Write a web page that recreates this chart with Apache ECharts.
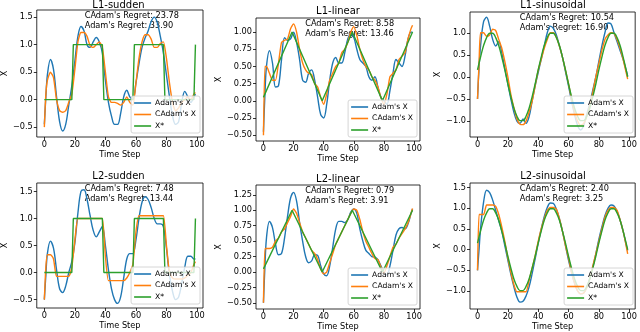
<!DOCTYPE html>
<html><head><meta charset="utf-8">
<script src="https://cdn.jsdelivr.net/npm/echarts@6/dist/echarts.min.js"></script>
<style>html,body{margin:0;padding:0;background:#fff}#c{width:640px;height:332px}</style>
</head><body><div id="c"></div>
<script>
// ---------- data ----------
const T = [0,1,2,4,6,8,10,12,14,16, 18,20,22,24,26,28,30,32,34,36, 38,40,42,44,46,48,50,52,54,56, 58,60,62,64,66,68,70,72,74,76, 78,80,82,84,86,88,90,92,94,96, 98,99];
const T_SUDDEN = [0,18,19,38,39,58,59,78,79,98,99];
const XSTAR_SUDDEN = [0,0,1,1,0,0,1,1,0,0,1];
const T_LINEAR = [0,19,39,59,79,99];
const XSTAR_LINEAR = [0.05,1,0,1,0,1];
const XSTAR_SIN = [0.16,0.31,0.45,0.71,0.89,0.99,0.99,0.89,0.71,0.45, 0.16,-0.16,-0.45,-0.71,-0.89,-0.99,-0.99,-0.89,-0.71,-0.45, -0.16,0.16,0.45,0.71,0.89,0.99,0.99,0.89,0.71,0.45, 0.16,-0.16,-0.45,-0.71,-0.89,-0.99,-0.99,-0.89,-0.71,-0.45, -0.16,0.16,0.45,0.71,0.89,0.99,0.99,0.89,0.71,0.45, 0.16,0.00];

const L1S_ADAM = [-0.45,0.05,0.45,0.73,0.55,0.05,-0.40,-0.57,-0.45,-0.10, 0.25,0.70,1.15,1.33,1.25,1.00,0.95,1.05,1.13,1.05, 0.85,0.35,-0.05,-0.30,-0.45,-0.45,-0.25,0.05,0.17,0.05, 0.00,0.30,0.65,0.95,1.12,1.25,1.42,1.50,1.40,1.15, 0.85,0.45,0.05,-0.30,-0.45,-0.40,-0.05,0.15,0.05,-0.05, 0.05,0.10];
const L1S_CADAM = [-0.50,0.10,0.35,0.50,0.40,0.00,-0.20,-0.23,-0.20,-0.05, 0.10,0.55,1.05,1.22,1.22,1.15,0.98,0.95,1.00,1.05, 0.95,0.50,0.05,-0.05,-0.05,-0.07,-0.10,-0.05,0.05,-0.05, -0.10,0.30,0.75,1.05,1.18,1.18,1.10,0.95,0.95,1.02, 1.05,0.75,0.30,-0.05,-0.20,-0.15,-0.05,0.00,0.05,0.00, 0.10,0.13];
const L1L_ADAM = [-0.45,0.10,0.50,0.73,0.55,0.20,0.22,0.60,0.92,0.88, 0.90,1.00,0.85,0.60,0.30,0.27,0.40,0.45,0.30,0.05, -0.20,-0.25,-0.05,0.30,0.55,0.63,0.55,0.55,0.70,0.90, 0.97,0.92,0.75,0.60,0.55,0.50,0.35,0.30,0.35,0.20, 0.05,0.00,-0.05,0.15,0.40,0.60,0.55,0.50,0.65,0.90, 1.00,1.00];
const L1L_CADAM = [-0.50,0.50,0.50,0.40,0.30,0.30,0.55,0.85,0.88,0.90, 1.05,1.12,1.00,0.75,0.55,0.45,0.40,0.38,0.25,0.20, 0.05,-0.05,0.10,0.30,0.40,0.50,0.55,0.70,0.75,0.85, 1.00,1.08,0.95,0.75,0.60,0.50,0.45,0.35,0.30,0.20, 0.05,-0.05,0.10,0.35,0.40,0.45,0.60,0.65,0.70,0.90, 1.05,1.10];
const L1N_ADAM = [-0.50,0.20,0.70,1.25,1.35,1.15,0.85,0.70,0.80,0.55, 0.20,-0.15,-0.50,-0.80,-1.00,-1.05,-0.95,-1.05,-0.90,-0.55, -0.20,0.10,0.40,0.70,1.00,1.15,1.10,0.95,0.70,0.45, 0.12,-0.20,-0.55,-0.85,-1.10,-1.20,-1.10,-0.85,-0.60,-0.30, 0.00,0.35,0.70,1.00,1.22,1.20,1.00,0.80,0.60,0.40, 0.15,0.02];
const L1N_CADAM = [-0.50,0.30,1.00,1.00,0.92,0.95,1.08,1.05,0.85,0.65, 0.35,0.00,-0.40,-0.70,-0.95,-1.07,-1.08,-1.00,-0.80,-0.55, -0.20,0.15,0.40,0.65,0.85,1.00,1.00,0.90,0.70,0.45, 0.15,-0.15,-0.50,-0.80,-1.00,-1.10,-1.05,-0.90,-0.65,-0.35, 0.00,0.30,0.60,0.85,0.95,1.00,0.98,0.85,0.65,0.40, 0.10,-0.05];
const L2S_ADAM = [-0.50,-0.05,0.35,0.58,0.45,0.05,-0.30,-0.37,-0.25,0.00, 0.20,0.55,1.10,1.50,1.53,1.35,1.05,0.78,0.66,0.75, 0.85,0.50,0.05,-0.30,-0.50,-0.57,-0.45,-0.10,0.25,0.35, 0.35,0.60,1.00,1.30,1.40,1.35,1.20,1.00,0.90,0.90, 0.85,0.45,-0.05,-0.35,-0.50,-0.45,-0.20,0.10,0.30,0.30, 0.25,0.25];
const L2S_CADAM = [-0.50,0.10,0.33,0.33,0.25,-0.07,-0.07,-0.07,-0.07,-0.07, 0.10,0.60,1.00,1.00,1.00,1.00,1.00,1.00,1.00,1.00, 1.00,0.30,-0.15,-0.15,-0.15,-0.15,-0.15,-0.15,-0.10,0.00, 0.15,0.75,1.05,1.05,1.05,1.05,1.05,1.05,1.05,1.05, 1.05,0.50,0.00,-0.10,-0.12,-0.12,-0.12,-0.10,-0.05,0.00, 0.15,0.20];
const L2L_ADAM = [-0.50,0.10,0.55,0.82,0.72,0.45,0.28,0.30,0.55,0.90, 1.20,1.29,1.15,0.80,0.50,0.25,0.15,0.18,0.28,0.27, 0.10,-0.03,-0.06,0.10,0.40,0.70,0.82,0.82,0.80,0.85, 0.97,1.02,0.95,0.70,0.50,0.35,0.30,0.25,0.24,0.20, 0.10,0.00,-0.05,0.10,0.35,0.60,0.70,0.72,0.70,0.78, 0.95,1.02];
const L2L_CADAM = [-0.50,0.38,0.38,0.38,0.40,0.50,0.55,0.65,0.70,0.80, 0.90,1.02,0.95,0.80,0.65,0.55,0.45,0.35,0.30,0.20, 0.05,-0.03,0.00,0.15,0.30,0.45,0.55,0.65,0.75,0.85, 0.95,1.02,1.00,0.85,0.65,0.50,0.40,0.30,0.22,0.20, 0.08,-0.02,0.10,0.25,0.40,0.45,0.55,0.62,0.70,0.80, 0.95,1.03];
const L2N_ADAM = [-0.50,0.00,0.50,1.15,1.44,1.38,1.20,0.95,0.70,0.45, 0.10,-0.25,-0.60,-0.90,-1.15,-1.27,-1.25,-1.12,-0.90,-0.58, -0.22,0.15,0.50,0.80,1.02,1.13,1.12,0.98,0.75,0.45, 0.10,-0.25,-0.55,-0.82,-1.00,-1.07,-1.05,-0.92,-0.70,-0.42, -0.10,0.25,0.55,0.82,1.00,1.08,1.06,0.93,0.72,0.45, 0.12,-0.02];
const L2N_CADAM = [-0.50,0.85,0.85,0.85,1.08,1.08,1.08,1.05,0.85,0.55, 0.20,-0.20,-0.55,-0.85,-1.02,-1.02,-1.02,-1.02,-0.75,-0.45, -0.15,0.20,0.50,0.75,0.95,1.02,1.02,0.98,0.75,0.45, 0.10,-0.20,-0.55,-0.80,-1.00,-1.07,-1.05,-0.92,-0.70,-0.40, -0.10,0.20,0.50,0.78,0.95,1.02,1.02,0.95,0.72,0.45, 0.10,-0.10];

const TITLES = ['L1-sudden','L1-linear','L1-sinusoidal','L2-sudden','L2-linear','L2-sinusoidal'];
const CADAM_REGRET = [23.78, 8.58, 10.54, 7.48, 0.79, 2.40];
const ADAM_REGRET = [33.90, 13.46, 16.90, 13.44, 3.91, 3.25];
const X_TICKS = [0,20,40,60,80,100];
const Y_TICKS_SUDDEN = [-0.5,0,0.5,1,1.5];
const Y_TICKS_L1_LINEAR = [-0.5,-0.25,0,0.25,0.5,0.75,1];
const Y_TICKS_L2_LINEAR = [-0.5,-0.25,0,0.25,0.5,0.75,1,1.25];
const Y_TICKS_L1_SIN = [-1,-0.5,0,0.5,1];
const Y_TICKS_L2_SIN = [-1,-0.5,0,0.5,1,1.5];
const NAMES = ["Adam's X", "CAdam's X", "X*"];

// ---------- layout ----------
const FONT = 'DejaVu Sans';
const FS = 8.2;
const LFS = 7.6;
const W = 640, H = 332;
const COLORS = ['#1f77b4', '#ff7f0e', '#2ca02c'];
const panels = [
  {g:[34,10,169,127],  ty:5.5,   ylim:[-0.68,1.63],  yt:Y_TICKS_SUDDEN,    dec:1, adam:L1S_ADAM, cadam:L1S_CADAM, st:T_SUDDEN, star:XSTAR_SUDDEN, sm:false, yGap:25},
  {g:[256,18,164,123], ty:11,    ylim:[-0.585,1.205],yt:Y_TICKS_L1_LINEAR, dec:2, adam:L1L_ADAM, cadam:L1L_CADAM, st:T_LINEAR, star:XSTAR_LINEAR, sm:false, yGap:28},
  {g:[470,12,166,125], ty:5.5,   ylim:[-1.36,1.47],  yt:Y_TICKS_L1_SIN,    dec:1, adam:L1N_ADAM, cadam:L1N_CADAM, st:T,        star:XSTAR_SIN,    sm:true,  yGap:26},
  {g:[34,183,169,125], ty:176.5, ylim:[-0.655,1.655],yt:Y_TICKS_SUDDEN,    dec:1, adam:L2S_ADAM, cadam:L2S_CADAM, st:T_SUDDEN, star:XSTAR_SUDDEN, sm:false, yGap:25.5},
  {g:[256,185,164,124],ty:179,   ylim:[-0.60,1.41],  yt:Y_TICKS_L2_LINEAR, dec:2, adam:L2L_ADAM, cadam:L2L_CADAM, st:T_LINEAR, star:XSTAR_LINEAR, sm:false, yGap:27},
  {g:[470,183,166,126],ty:176.5, ylim:[-1.436,1.614],yt:Y_TICKS_L2_SIN,    dec:1, adam:L2N_ADAM, cadam:L2N_CADAM, st:T,        star:XSTAR_SIN,    sm:true,  yGap:24}
];

function pairs(xs, ys) { return xs.map((x, i) => [x, ys[i]]); }
function fmt(v, dec) { return v.toFixed(dec).replace('-', '\u2212'); }
const txt = {color:'#000', fontFamily:FONT, fontSize:FS};

const option = {
  animation:false,
  backgroundColor:'#fff',
  grid: panels.map(p => ({left:p.g[0], top:p.g[1], width:p.g[2], height:p.g[3], show:true, borderColor:'#000', borderWidth:0.8, backgroundColor:'transparent', containLabel:false})),
  xAxis: panels.map((p, i) => ({
    type:'value', gridIndex:i, min:-4.95, max:103.95,
    splitLine:{show:false}, axisLine:{show:false, onZero:false},
    axisTick:{show:true, length:3, customValues:X_TICKS, lineStyle:{color:'#000', width:0.8}},
    axisLabel:Object.assign({customValues:X_TICKS, margin:3.5, formatter:v => String(v)}, txt),
    name:'Time Step', nameLocation:'middle', nameGap:13.5, nameTextStyle:txt
  })),
  yAxis: panels.map((p, i) => ({
    type:'value', gridIndex:i, min:p.ylim[0], max:p.ylim[1],
    splitLine:{show:false}, axisLine:{show:false, onZero:false},
    axisTick:{show:true, length:3, customValues:p.yt, lineStyle:{color:'#000', width:0.8}},
    axisLabel:Object.assign({customValues:p.yt, margin:4, formatter:v => fmt(v, p.dec)}, txt),
    name:'X', nameLocation:'middle', nameGap:p.yGap, nameTextStyle:txt
  })),
  legend: panels.map(p => ({
    data:NAMES, orient:'vertical',
    right: W - (p.g[0] + p.g[2]) + 3,
    bottom: H - (p.g[1] + p.g[3]) + 4,
    icon:'rect', itemWidth:17, itemHeight:1.6, itemGap:1.5,
    padding:[2,4,2,3],
    backgroundColor:'rgba(255,255,255,0.8)', borderColor:'#cccccc', borderWidth:0.8, borderRadius:2,
    textStyle:{color:'#000', fontFamily:FONT, fontSize:LFS, lineHeight:10, padding:[0,0,0,-1]},
    selectedMode:false
  })),
  series: [],
  graphic: {elements: []}
};

panels.forEach((p, i) => {
  option.series.push({name:NAMES[0], type:'line', xAxisIndex:i, yAxisIndex:i, data:pairs(T, p.adam), smooth:0.35, showSymbol:false, symbol:'none', lineStyle:{color:COLORS[0], width:1.4}, itemStyle:{color:COLORS[0]}});
  option.series.push({name:NAMES[1], type:'line', xAxisIndex:i, yAxisIndex:i, data:pairs(T, p.cadam), smooth:0.2, showSymbol:false, symbol:'none', lineStyle:{color:COLORS[1], width:1.4}, itemStyle:{color:COLORS[1]}});
  option.series.push({name:NAMES[2], type:'line', xAxisIndex:i, yAxisIndex:i, data:pairs(p.st, p.star), smooth:p.sm ? 0.35 : false, showSymbol:false, symbol:'none', lineStyle:{color:COLORS[2], width:1.4}, itemStyle:{color:COLORS[2]}});
  const [l, t, w] = p.g;
  option.graphic.elements.push({type:'text', x:l + w/2, y:p.ty, silent:true,
    style:{text:TITLES[i], fill:'#000', fontFamily:FONT, fontSize:10, textAlign:'center', textVerticalAlign:'middle'}});
  option.graphic.elements.push({type:'text', x:l + 0.3*w, y:t + 1.5, silent:true,
    style:{text:"CAdam's Regret: " + CADAM_REGRET[i].toFixed(2) + "\nAdam's Regret: " + ADAM_REGRET[i].toFixed(2), fill:'#000', fontFamily:FONT, fontSize:FS, lineHeight:9.3, textAlign:'left', textVerticalAlign:'top'}});
});

const chart = echarts.init(document.getElementById('c'), null, {renderer:'canvas'});
chart.setOption(option);
</script></body></html>
